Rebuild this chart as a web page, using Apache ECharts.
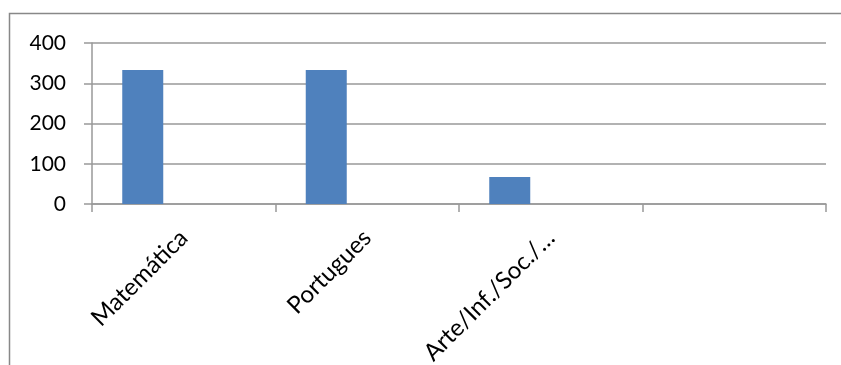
<!DOCTYPE html>
<html>
<head>
<meta charset="utf-8">
<script src="https://cdn.jsdelivr.net/npm/echarts@6/dist/echarts.min.js"></script>
<style>
html,body{margin:0;padding:0;background:#fff;}
#chart{width:841px;height:365px;}
</style>
</head>
<body>
<div id="chart"></div>
<script>
const categories = ['Matemática', 'Portugues', 'Arte/Inf./Soc./…', ''];
const series1 = [333, 333, 67, null];
const series2 = [null, null, null, null];
const series3 = [null, null, null, null];
const yTicks = [0, 100, 200, 300, 400];

const chart = echarts.init(document.getElementById('chart'));
const gridColor = '#999999';
const font = 'Lato, "Open Sans", sans-serif';
chart.setOption({
  animation: false,
  graphic: [{
    type: 'rect',
    shape: { x: 9.5, y: 13.5, width: 900, height: 400 },
    style: { fill: 'none', stroke: '#888888', lineWidth: 1.5 },
    silent: true
  }],
  grid: { left: 92, right: 15, top: 43, bottom: 161, containLabel: false, outerBoundsMode: 'none' },
  xAxis: {
    type: 'category',
    data: categories,
    axisLine: { lineStyle: { color: gridColor, width: 1.5 } },
    axisTick: { show: true, length: 8, lineStyle: { color: gridColor, width: 1.5 } },
    axisLabel: { rotate: 45, margin: 30, color: '#000', fontSize: 24, fontFamily: font, interval: 0 }
  },
  yAxis: {
    type: 'value',
    min: yTicks[0],
    max: yTicks[yTicks.length - 1],
    interval: 100,
    axisLine: { show: true, lineStyle: { color: gridColor, width: 1.5 } },
    axisTick: { show: true, length: 8, lineStyle: { color: gridColor, width: 1.5 } },
    splitLine: { show: true, lineStyle: { color: gridColor, width: 1.5 } },
    axisLabel: { margin: 26, color: '#000', fontSize: 21, fontFamily: font }
  },
  series: [
    { type: 'bar', data: series1, barWidth: 41, barGap: '0%', itemStyle: { color: '#4f81bd' } },
    { type: 'bar', data: series2, barWidth: 41, barGap: '0%', itemStyle: { color: '#c0504d' } },
    { type: 'bar', data: series3, barWidth: 41, barGap: '0%', itemStyle: { color: '#9bbb59' } }
  ]
});
</script>
</body>
</html>
